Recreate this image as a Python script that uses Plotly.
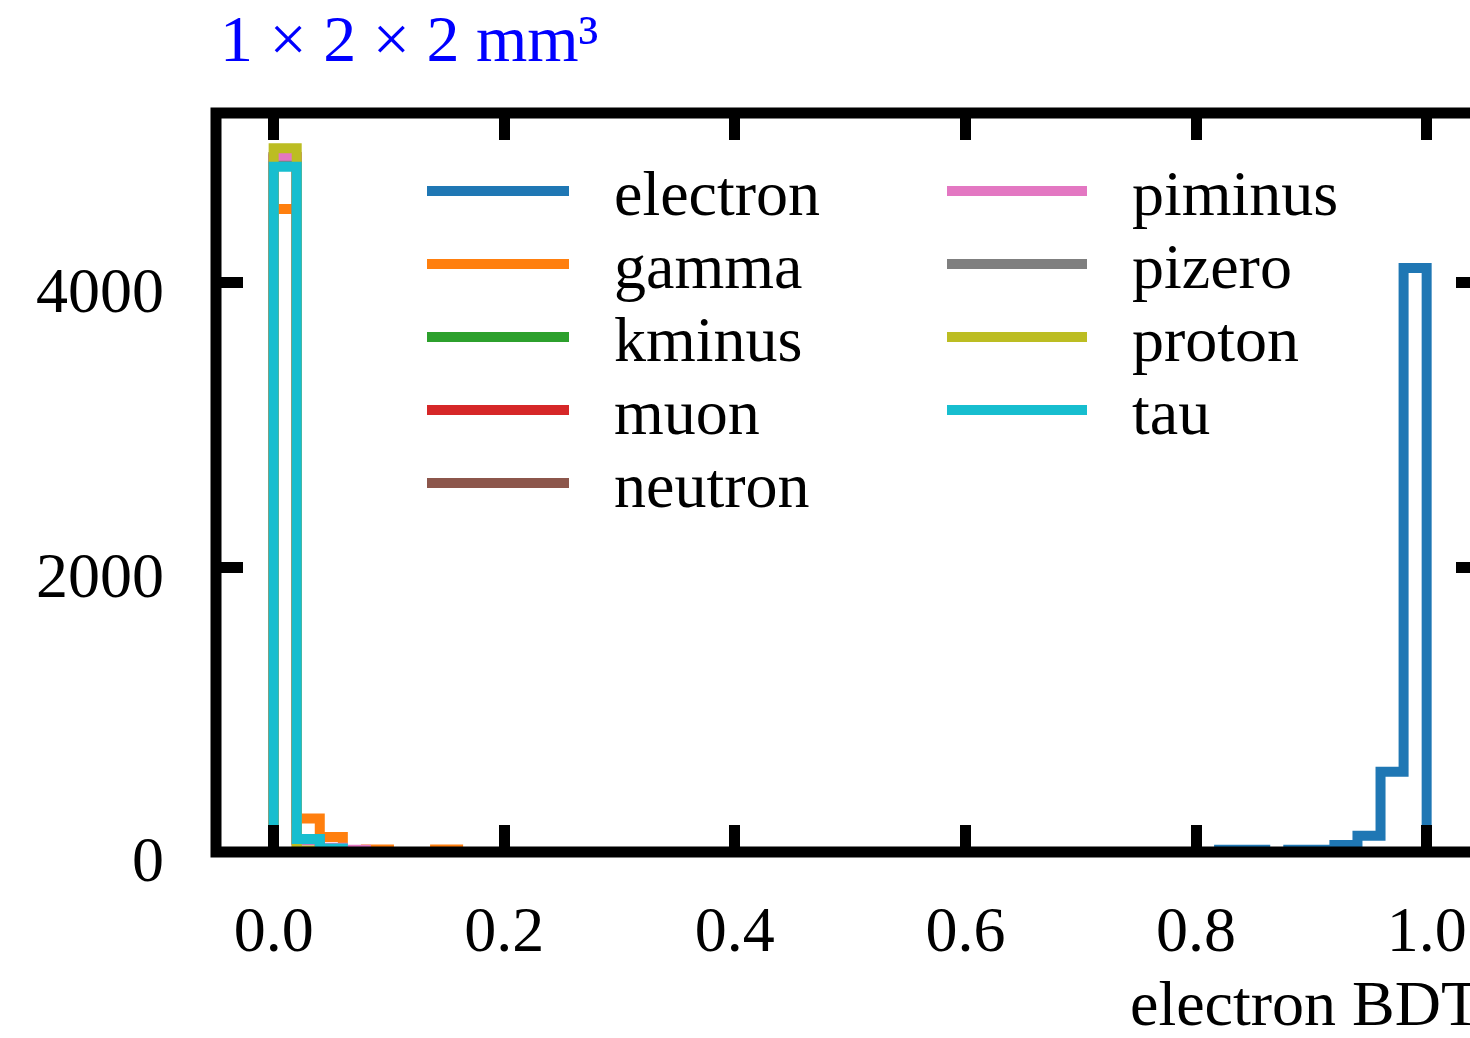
import plotly.graph_objects as go

# ---------------- data ----------------
BIN_EDGES = [0.00, 0.02, 0.04, 0.06, 0.08, 0.10, 0.12, 0.14, 0.16, 0.18,
             0.20, 0.22, 0.24, 0.26, 0.28, 0.30, 0.32, 0.34, 0.36, 0.38,
             0.40, 0.42, 0.44, 0.46, 0.48, 0.50, 0.52, 0.54, 0.56, 0.58,
             0.60, 0.62, 0.64, 0.66, 0.68, 0.70, 0.72, 0.74, 0.76, 0.78,
             0.80, 0.82, 0.84, 0.86, 0.88, 0.90, 0.92, 0.94, 0.96, 0.98, 1.00]

SPECIES = ["electron", "gamma", "kminus", "muon", "neutron",
           "piminus", "pizero", "proton", "tau"]
COLORS = ["#1f77b4", "#ff7f0e", "#2ca02c", "#d62728", "#8c564b",
          "#e377c2", "#7f7f7f", "#bcbd22", "#17becf"]

# counts per bin (50 bins of width 0.02)
electron = [0] * 41 + [15, 15, 0, 15, 15, 50, 115, 565, 4105]
gamma = [4520, 235, 105, 10, 17, 0, 0, 17] + [0] * 42
kminus = [4886, 88] + [0] * 48
muon = [4870, 85] + [0] * 48
neutron = [4880, 0] + [0] * 48
piminus = [4886, 80, 30, 15] + [0] * 46
pizero = [4825, 90] + [0] * 48
proton = [4948, 10] + [0] * 48
tau = [4818, 91, 25] + [0] * 47
COUNTS = [electron, gamma, kminus, muon, neutron, piminus, pizero, proton, tau]

X_TICKS = [0.0, 0.2, 0.4, 0.6, 0.8, 1.0]
X_TICKTEXT = ["0.0", "0.2", "0.4", "0.6", "0.8", "1.0"]
Y_TICKS = [0, 2000, 4000]
Y_TICKTEXT = ["0", "2000", "4000"]

TITLE = "1 × 2 × 2 mm³"
XLABEL = "electron BDT"

# ---------------- figure ----------------
W, H = 1470, 1038
L, R, T, B = 216, 0, 113, 186
X_RANGE = [-0.05, 1.0376]
Y_RANGE = [0, 5195]
FONT = "Liberation Serif"
FS = 64
LW = 10


def xp(px):
    return (px - L) / (W - L - R)


def yp(py):
    return (H - B - py) / (H - T - B)


fig = go.Figure()
for name, color, counts in zip(SPECIES, COLORS, COUNTS):
    xs = [BIN_EDGES[0]] + BIN_EDGES[:-1] + [BIN_EDGES[-1]]
    ys = [0] + counts + [0]
    fig.add_trace(go.Scatter(x=xs, y=ys, mode="lines", line_shape="hv",
                             line=dict(color=color, width=LW), name=name,
                             showlegend=False, hoverinfo="skip"))

# helper trace for the right-hand tick axis
fig.add_trace(go.Scatter(x=[], y=[], yaxis="y2", showlegend=False))

shapes = []
annotations = []

# frame (matplotlib-like spines centred on the axes edge)
shapes.append(dict(type="rect", xref="paper", yref="paper",
                   x0=0, x1=(1.05 - X_RANGE[0]) / (X_RANGE[1] - X_RANGE[0]),
                   y0=0, y1=1, line=dict(color="black", width=11),
                   layer="above"))

# legend
row_y = [191, 264, 337, 410, 483]
for i, (name, color) in enumerate(zip(SPECIES, COLORS)):
    col = 0 if i < 5 else 1
    r = i if i < 5 else i - 5
    x0, x1, xt = (427, 569, 612) if col == 0 else (947, 1087, 1130)
    yy = row_y[r]
    shapes.append(dict(type="line", xref="paper", yref="paper",
                       x0=xp(x0), x1=xp(x1), y0=yp(yy), y1=yp(yy),
                       line=dict(color=color, width=LW), layer="above"))
    annotations.append(dict(text=name, xref="paper", yref="paper",
                            x=xp(xt), y=yp(yy + 2), xanchor="left",
                            yanchor="middle", showarrow=False,
                            font=dict(family=FONT, size=FS, color="black")))

annotations.append(dict(text=TITLE, xref="paper", yref="paper",
                        x=xp(218), y=yp(38), xanchor="left", yanchor="middle",
                        showarrow=False,
                        font=dict(family=FONT, size=66, color="#0000ff")))
annotations.append(dict(text=XLABEL, xref="paper", yref="paper",
                        x=xp(1128), y=yp(1003), xanchor="left",
                        yanchor="middle", showarrow=False,
                        font=dict(family=FONT, size=FS, color="black")))

axis_common = dict(showgrid=False, zeroline=False, showline=False,
                   ticks="inside", tickwidth=11, tickcolor="black",
                   tickfont=dict(family=FONT, size=FS, color="black"))

fig.update_layout(
    width=W, height=H,
    margin=dict(l=L, r=R, t=T, b=B, pad=0),
    paper_bgcolor="white", plot_bgcolor="white",
    showlegend=False,
    xaxis=dict(range=X_RANGE, tickmode="array", tickvals=X_TICKS,
               ticktext=X_TICKTEXT, ticklen=27, mirror="ticks",
               ticklabelstandoff=34, **axis_common),
    yaxis=dict(range=Y_RANGE, tickmode="array", tickvals=Y_TICKS,
               ticktext=Y_TICKTEXT, ticklen=27,
               ticklabelstandoff=51, ticklabelshift=7, **axis_common),
    yaxis2=dict(range=Y_RANGE, overlaying="y", side="right", anchor="x",
                tickmode="array", tickvals=Y_TICKS, ticklen=14,
                showticklabels=False, **{k: v for k, v in axis_common.items()
                                         if k != "tickfont"}),
    shapes=shapes,
    annotations=annotations,
)

fig.write_html("out.html")
